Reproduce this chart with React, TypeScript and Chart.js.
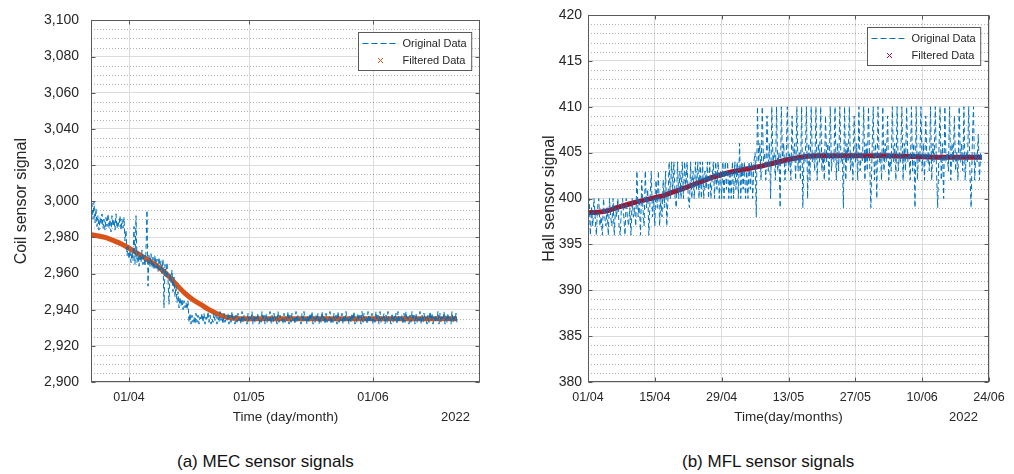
import React, { useEffect, useRef } from 'react';
import { Chart, registerables } from 'chart.js';

Chart.register(...registerables);

const FONT = "'Liberation Sans', Arial, Helvetica, sans-serif";
const TEXT = '#262626';
const AXIS = '#5a5a5a';
const BLUE = '#0072BD';

// ---------- Panel (a): MEC sensor (days relative to 01/04/2022) ----------
const mecStartDay = -9.5;
const mecStepDay = 0.25;
const mecOriginal = [
  2994, 2999, 2990, 3000, 2988, 2996, 2986, 2992, 2984, 2991, 2987, 2993, 2985, 2990, 2984, 2991,
  2986, 2993, 2985, 2990, 2983, 2992, 2986, 2990, 2984, 2993, 2985, 2989, 2986, 2992, 2984, 2990,
  2985, 2991, 2978, 2984, 2970, 2975, 2968, 2973, 2966, 2972, 2967, 2986, 2965, 2992, 2966, 2972,
  2964, 2971, 2966, 2973, 2965, 2970, 2964, 2972, 2995, 2953, 2970, 2964, 2971, 2963, 2969, 2962,
  2970, 2963, 2968, 2961, 2969, 2962, 2967, 2960, 2968, 2941, 2965, 2958, 2966, 2957, 2943, 2960,
  2955, 2962, 2950, 2958, 2947, 2953, 2944, 2950, 2941, 2947, 2942, 2946, 2940, 2945, 2941, 2944,
  2940, 2945, 2933, 2938, 2932, 2937, 2933, 2936, 2932, 2938, 2933, 2937, 2932, 2936, 2934, 2938,
  2933, 2938, 2932, 2936, 2934, 2939, 2933, 2937, 2932, 2935, 2933, 2938, 2934, 2937, 2932, 2936,
  2933, 2939, 2934, 2936, 2932, 2938, 2933, 2935, 2934, 2938, 2932, 2937, 2933, 2939, 2934, 2936,
  2932, 2937, 2933, 2938, 2934, 2936, 2932, 2939, 2933, 2937, 2934, 2935, 2932, 2938, 2933, 2936,
  2934, 2939, 2932, 2937, 2933, 2936, 2934, 2938, 2932, 2935, 2933, 2939, 2934, 2937, 2932, 2938,
  2933, 2936, 2934, 2939, 2932, 2937, 2933, 2938, 2934, 2936, 2932, 2939, 2933, 2937, 2934, 2935,
  2932, 2938, 2933, 2936, 2934, 2939, 2932, 2937, 2933, 2938, 2934, 2936, 2932, 2939, 2933, 2937,
  2934, 2935, 2932, 2938, 2933, 2939, 2934, 2936, 2932, 2937, 2933, 2938, 2934, 2939, 2932, 2936,
  2933, 2937, 2934, 2938, 2932, 2936, 2933, 2939, 2934, 2937, 2932, 2938, 2933, 2935, 2934, 2939,
  2932, 2936, 2933, 2938, 2934, 2937, 2932, 2939, 2933, 2936, 2934, 2938, 2932, 2937, 2933, 2939,
  2934, 2936, 2932, 2937, 2933, 2938, 2934, 2939, 2932, 2935, 2933, 2938, 2934, 2937, 2932, 2939,
  2933, 2938, 2934, 2936, 2932, 2939, 2933, 2937, 2934, 2938, 2932, 2936, 2933, 2939, 2934, 2937,
  2932, 2939, 2933, 2936, 2934, 2938, 2932, 2937, 2933, 2939, 2934, 2935, 2932, 2938, 2933, 2937,
  2934, 2938, 2932, 2939, 2933, 2936, 2934, 2937, 2932, 2938, 2933, 2939, 2934, 2936, 2932, 2937,
  2933, 2939, 2934, 2937, 2932, 2938, 2933, 2936, 2934, 2939, 2932, 2937, 2933, 2938, 2934, 2936,
  2932, 2937, 2933, 2939, 2934, 2938, 2932, 2936, 2933, 2937, 2934, 2939, 2932, 2938, 2933, 2936,
  2934, 2939, 2932, 2937, 2933, 2938, 2934, 2936, 2932, 2939, 2933, 2937, 2934, 2938, 2933,
];
const mecFilteredDays = [-9.5, -6, -4, -2, 0, 2, 4, 6, 8, 10, 12, 14, 16, 18, 20, 22, 24, 26, 28, 35, 45, 55, 65, 75, 82];
const mecFilteredValues = [2981.5, 2980, 2978.3, 2976.5, 2974, 2971.3, 2968.5, 2965.8, 2962.5, 2958.3, 2953.5, 2949, 2945.5, 2942.8, 2940, 2937.8, 2936, 2935.2, 2935, 2935, 2935, 2935, 2935, 2935, 2935];
const mecXTickDays = [0, 30, 61];
const mecXTickLabels = ['01/04', '01/05', '01/06'];
const mecYTicks = [2900, 2920, 2940, 2960, 2980, 3000, 3020, 3040, 3060, 3080, 3100];
const mecYTickLabels = ['2,900', '2,920', '2,940', '2,960', '2,980', '3,000', '3,020', '3,040', '3,060', '3,080', '3,100'];

// ---------- Panel (b): MFL sensor ----------
const mflStartDay = 0;
const mflStepDay = 0.25;
const mflOriginal = [
  398, 400, 396, 399, 397, 400, 398, 396, 399, 400, 397, 398, 396, 400, 398, 397,
  399, 396, 400, 398, 397, 400, 396, 399, 398, 400, 397, 396, 399, 400, 398, 396,
  400, 398, 397, 399, 396, 400, 398, 399, 397, 403, 398, 400, 396, 402, 399, 397,
  403, 399, 401, 396, 400, 403, 398, 400, 397, 402, 399, 403, 397, 400, 398, 402,
  399, 403, 397, 400, 404, 400, 404, 401, 404, 400, 399, 404, 400, 403, 400, 404,
  400, 404, 401, 404, 400, 399, 404, 400, 403, 400, 404, 401, 404, 400, 404, 400,
  404, 400, 403, 401, 404, 400, 404, 400, 402, 404, 400, 404, 401, 404, 400, 403,
  400, 404, 400, 404, 401, 404, 400, 403, 400, 404, 400, 404, 401, 404, 400, 406,
  400, 404, 401, 404, 400, 403, 400, 404, 401, 404, 400, 404, 405, 398, 410, 404,
  406, 402, 410, 404, 405, 402, 409, 403, 406, 400, 410, 404, 405, 402, 410, 403,
  405, 399, 410, 404, 406, 402, 404, 410, 403, 405, 402, 409, 404, 406, 402, 410,
  403, 405, 402, 410, 399, 405, 404, 410, 400, 406, 402, 410, 404, 405, 403, 410,
  402, 406, 404, 410, 403, 405, 402, 409, 404, 406, 402, 410, 403, 405, 404, 410,
  402, 406, 403, 410, 404, 405, 399, 410, 402, 406, 404, 410, 403, 405, 402, 409,
  404, 406, 402, 410, 403, 405, 404, 410, 402, 406, 403, 410, 404, 399, 405, 410,
  402, 406, 400, 410, 404, 405, 402, 410, 403, 406, 404, 409, 402, 405, 403, 410,
  404, 406, 402, 410, 403, 405, 404, 410, 402, 406, 403, 410, 404, 405, 402, 410,
  403, 406, 399, 410, 402, 405, 404, 410, 403, 406, 402, 409, 404, 405, 403, 410,
  402, 406, 404, 410, 403, 399, 405, 410, 402, 406, 400, 410, 404, 405, 403, 410,
  402, 406, 404, 409, 403, 405, 402, 410, 404, 406, 403, 410, 402, 405, 404, 410,
  403, 399, 406, 410, 402, 405, 404, 407, 402, 405, 404,
];
const mflFilteredDays = [0, 2, 4, 6, 8, 10, 12, 14, 16, 18, 20, 22, 24, 26, 28, 30, 32, 34, 36, 38, 40, 42, 44, 46, 48, 55, 62, 70, 76, 82.5];
const mflFilteredValues = [398.45, 398.5, 398.65, 399, 399.3, 399.6, 399.85, 400.1, 400.35, 400.75, 401.1, 401.5, 401.9, 402.3, 402.6, 402.9, 403.1, 403.3, 403.5, 403.75, 404, 404.25, 404.45, 404.6, 404.65, 404.65, 404.65, 404.55, 404.5, 404.5];
const mflXTickDays = [0, 14, 28, 42, 56, 70, 84];
const mflXTickLabels = ['01/04', '15/04', '29/04', '13/05', '27/05', '10/06', '24/06'];
const mflYTicks = [380, 385, 390, 395, 400, 405, 410, 415, 420];
const mflYTickLabels = ['380', '385', '390', '395', '400', '405', '410', '415', '420'];

const legendLabels = ['Original Data', 'Filtered Data'];

const matlabDecor = {
  id: 'matlabDecor',
  beforeDatasetsDraw(chart: any, _a: any, o: any) {
    const { ctx, chartArea: a } = chart;
    const ys = chart.scales.y;
    ctx.save();
    ctx.strokeStyle = 'rgba(0,0,0,0.3)';
    ctx.lineWidth = 1;
    ctx.setLineDash([1, 2]);
    const n = Math.round((o.yMax - o.yMin) / o.yMinor);
    const every = Math.round(o.yMajor / o.yMinor);
    for (let i = 1; i < n; i++) {
      if (i % every === 0) continue;
      const py = Math.round(ys.getPixelForValue(o.yMin + i * o.yMinor)) + 0.5;
      ctx.beginPath();
      ctx.moveTo(a.left, py);
      ctx.lineTo(a.right, py);
      ctx.stroke();
    }
    ctx.restore();
  },
  afterDraw(chart: any, _a: any, o: any) {
    const { ctx, chartArea: a } = chart;
    ctx.save();
    ctx.setLineDash([]);
    ctx.strokeStyle = AXIS;
    ctx.lineWidth = 1;
    const L = Math.round(a.left) + 0.5;
    const R = Math.round(a.right) - 0.5;
    const T = Math.round(a.top) + 0.5;
    const B = Math.round(a.bottom) - 0.5;
    ctx.strokeRect(L, T, R - L, B - T);
    const tl = 4;
    chart.scales.y.ticks.forEach((t: any) => {
      const py = Math.round(chart.scales.y.getPixelForValue(t.value)) + 0.5;
      ctx.beginPath();
      ctx.moveTo(L, py); ctx.lineTo(L + tl, py);
      ctx.moveTo(R, py); ctx.lineTo(R - tl, py);
      ctx.stroke();
    });
    chart.scales.x.ticks.forEach((t: any) => {
      const px = Math.round(chart.scales.x.getPixelForValue(t.value)) + 0.5;
      ctx.beginPath();
      ctx.moveTo(px, B); ctx.lineTo(px, B - tl);
      ctx.moveTo(px, T); ctx.lineTo(px, T + tl);
      ctx.stroke();
    });
    // year label
    ctx.fillStyle = TEXT;
    ctx.font = `13px ${FONT}`;
    ctx.textAlign = 'right';
    ctx.textBaseline = 'middle';
    ctx.fillText(o.year, a.right - o.yearInset, a.bottom + 35);
    // legend
    ctx.font = `11px ${FONT}`;
    const tw = Math.max(...legendLabels.map((l) => ctx.measureText(l).width));
    const lineLen = 36;
    const bw = 4 + lineLen + 4 + tw + 5;
    const bx = Math.round(a.right - 9 - bw) + 0.5;
    const by = Math.round(a.top + 12) + 0.5;
    const bh = 38;
    ctx.fillStyle = '#ffffff';
    ctx.fillRect(bx, by, bw, bh);
    ctx.strokeStyle = AXIS;
    ctx.strokeRect(bx, by, bw, bh);
    const y1 = by + 11;
    const y2 = by + 28;
    ctx.strokeStyle = BLUE;
    ctx.setLineDash([6, 3]);
    ctx.beginPath();
    ctx.moveTo(bx + 4, y1);
    ctx.lineTo(bx + 4 + lineLen, y1);
    ctx.stroke();
    ctx.setLineDash([]);
    const cx = bx + 4 + lineLen / 2;
    ctx.strokeStyle = o.filteredColor;
    ctx.beginPath();
    ctx.moveTo(cx - 2.5, y2 - 2.5); ctx.lineTo(cx + 2.5, y2 + 2.5);
    ctx.moveTo(cx + 2.5, y2 - 2.5); ctx.lineTo(cx - 2.5, y2 + 2.5);
    ctx.stroke();
    ctx.fillStyle = TEXT;
    ctx.textAlign = 'left';
    ctx.fillText(legendLabels[0], bx + 4 + lineLen + 4, y1);
    ctx.fillText(legendLabels[1], bx + 4 + lineLen + 4, y2);
    ctx.restore();
  },
};

type PanelCfg = {
  left: number;
  width: number;
  startDay: number;
  stepDay: number;
  original: number[];
  filteredDays: number[];
  filteredValues: number[];
  filteredColor: string;
  xMin: number;
  xMax: number;
  xTickDays: number[];
  xTickLabels: string[];
  xTitle: string;
  yTicks: number[];
  yTickLabels: string[];
  yMinor: number;
  yTitle: string;
  yWidth: number;
  yTickPad: number;
  yTitlePad: number;
  padRight: number;
  yearInset: number;
};

function Panel({ cfg }: { cfg: PanelCfg }) {
  const ref = useRef<HTMLCanvasElement | null>(null);
  useEffect(() => {
    if (!ref.current) return;
    const yMin = cfg.yTicks[0];
    const yMax = cfg.yTicks[cfg.yTicks.length - 1];
    const yMajor = cfg.yTicks[1] - cfg.yTicks[0];
    const chart = new Chart(ref.current, {
      type: 'line',
      data: {
        datasets: [
          {
            label: 'Original Data',
            data: cfg.original.map((v, i) => ({ x: cfg.startDay + i * cfg.stepDay, y: v })),
            borderColor: BLUE,
            borderWidth: 1,
            borderDash: [5, 3],
            pointRadius: 0,
            tension: 0,
            fill: false,
          },
          {
            label: 'Filtered Data',
            data: cfg.filteredDays.map((d, i) => ({ x: d, y: cfg.filteredValues[i] })),
            borderColor: cfg.filteredColor,
            borderWidth: 5,
            pointRadius: 0,
            cubicInterpolationMode: 'monotone',
            fill: false,
          },
        ],
      },
      options: {
        responsive: false,
        animation: false,
        events: [],
        layout: { padding: { left: 0, right: cfg.padRight, top: 15, bottom: 0 } },
        plugins: {
          legend: { display: false },
          tooltip: { enabled: false },
          matlabDecor: {
            yMin,
            yMax,
            yMajor,
            yMinor: cfg.yMinor,
            year: '2022',
            yearInset: cfg.yearInset,
            filteredColor: cfg.filteredColor,
          },
        } as any,
        scales: {
          x: {
            type: 'linear',
            min: cfg.xMin,
            max: cfg.xMax,
            afterBuildTicks: (s: any) => {
              s.ticks = cfg.xTickDays.map((v) => ({ value: v }));
            },
            afterFit: (s: any) => {
              s.height = 58;
            },
            ticks: {
              autoSkip: false,
              maxRotation: 0,
              padding: 8,
              color: TEXT,
              font: { family: FONT, size: 12.5 },
              callback: (v: any) => {
                const k = cfg.xTickDays.indexOf(Number(v));
                return k >= 0 ? cfg.xTickLabels[k] : '';
              },
            },
            grid: { color: '#dcdcdc', drawTicks: false },
            border: { display: false },
            title: {
              display: true,
              text: cfg.xTitle,
              color: TEXT,
              font: { family: FONT, size: 13.5 },
              padding: { top: 0, bottom: 15 },
            },
          },
          y: {
            type: 'linear',
            min: yMin,
            max: yMax,
            afterBuildTicks: (s: any) => {
              s.ticks = cfg.yTicks.map((v) => ({ value: v }));
            },
            afterFit: (s: any) => {
              s.width = cfg.yWidth;
            },
            ticks: {
              autoSkip: false,
              padding: cfg.yTickPad,
              color: TEXT,
              font: { family: FONT, size: 14 },
              callback: (v: any) => {
                const k = cfg.yTicks.indexOf(Number(v));
                return k >= 0 ? cfg.yTickLabels[k] : '';
              },
            },
            grid: { color: '#dcdcdc', drawTicks: false },
            border: { display: false },
            title: {
              display: true,
              text: cfg.yTitle,
              color: TEXT,
              font: { family: FONT, size: 16 },
              padding: { top: cfg.yTitlePad, bottom: 0 },
            },
          },
        },
      } as any,
      plugins: [matlabDecor as any],
    });
    return () => chart.destroy();
  }, [cfg]);
  return (
    <canvas
      ref={ref}
      width={cfg.width}
      height={440}
      style={{ position: 'absolute', left: cfg.left, top: 0, width: cfg.width, height: 440 }}
    />
  );
}

const mecCfg: PanelCfg = {
  left: 0,
  width: 500,
  startDay: mecStartDay,
  stepDay: mecStepDay,
  original: mecOriginal,
  filteredDays: mecFilteredDays,
  filteredValues: mecFilteredValues,
  filteredColor: '#D95319',
  xMin: -9.5,
  xMax: 87.75,
  xTickDays: mecXTickDays,
  xTickLabels: mecXTickLabels,
  xTitle: 'Time (day/month)',
  yTicks: mecYTicks,
  yTickLabels: mecYTickLabels,
  yMinor: 5,
  yTitle: 'Coil sensor signal',
  yWidth: 91,
  yTickPad: 12,
  yTitlePad: 12,
  padRight: 20,
  yearInset: 10,
};

const mflCfg: PanelCfg = {
  left: 520,
  width: 494,
  startDay: mflStartDay,
  stepDay: mflStepDay,
  original: mflOriginal,
  filteredDays: mflFilteredDays,
  filteredValues: mflFilteredValues,
  filteredColor: '#A2142F',
  xMin: 0,
  xMax: 84,
  xTickDays: mflXTickDays,
  xTickLabels: mflXTickLabels,
  xTitle: 'Time(day/months)',
  yTicks: mflYTicks,
  yTickLabels: mflYTickLabels,
  yMinor: 1,
  yTitle: 'Hall sensor signal',
  yWidth: 68,
  yTickPad: 6,
  yTitlePad: 20,
  padRight: 25,
  yearInset: 11,
};

export default function App() {
  const cap: React.CSSProperties = {
    position: 'absolute',
    top: 451,
    fontFamily: FONT,
    fontSize: 17,
    lineHeight: '22px',
    color: '#111',
    whiteSpace: 'nowrap',
  };
  return (
    <div style={{ position: 'fixed', left: 0, top: 0, width: 1014, height: 474, background: '#fff', overflow: 'hidden' }}>
      <Panel cfg={mecCfg} />
      <Panel cfg={mflCfg} />
      <div style={{ ...cap, left: 177 }}>(a) MEC sensor signals</div>
      <div style={{ ...cap, left: 682 }}>(b) MFL sensor signals</div>
    </div>
  );
}
